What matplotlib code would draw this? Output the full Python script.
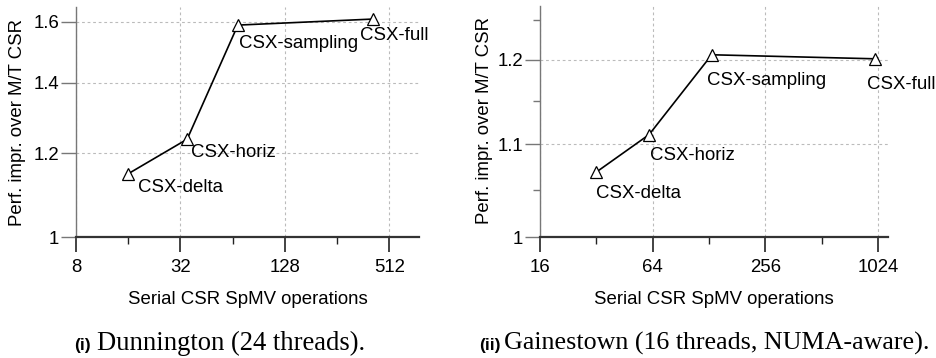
import matplotlib
matplotlib.use("Agg")
import matplotlib.pyplot as plt
from matplotlib.ticker import FixedLocator, FixedFormatter, NullFormatter

# Dunnington (24 threads)
dun_names = ["CSX-delta", "CSX-horiz", "CSX-sampling", "CSX-full"]
dun_ops = [16, 35, 68.6, 410]
dun_impr = [1.148, 1.238, 1.588, 1.609]
dun_xticks = [8, 32, 128, 512]
dun_xminor = [16, 64, 256]
dun_yticks = [1, 1.2, 1.4, 1.6]
dun_ylabels = ["1", "1.2", "1.4", "1.6"]
dun_yminor = []

# Gainestown (16 threads, NUMA-aware)
gai_names = ["CSX-delta", "CSX-horiz", "CSX-sampling", "CSX-full"]
gai_ops = [32, 61.3, 132.5, 993]
gai_impr = [1.069, 1.111, 1.206, 1.201]
gai_xticks = [16, 64, 256, 1024]
gai_xminor = [32, 128, 512]
gai_yticks = [1, 1.1, 1.2]
gai_ylabels = ["1", "1.1", "1.2"]
gai_yminor = [1.05, 1.15, 1.25]

W, H = 936, 358
DPI = 100
fig = plt.figure(figsize=(W / DPI, H / DPI), dpi=DPI)

SANS = ["Liberation Sans", "DejaVu Sans"]
SERIF = ["Liberation Serif", "DejaVu Serif"]
FS = 13.4


def px_axes(x0, x1, ytop, ybot):
    return fig.add_axes([x0 / W, (H - ybot) / H, (x1 - x0) / W, (ybot - ytop) / H])


def panel(ax, ops, impr, names, xlim, ylim, xticks, xminor, yticks, ylabels,
          yminor, offsets):
    ax.set_xscale("log", base=2)
    ax.set_yscale("log")
    ax.set_xlim(*xlim)
    ax.set_ylim(*ylim)

    ax.xaxis.set_major_locator(FixedLocator(xticks))
    ax.xaxis.set_major_formatter(FixedFormatter([str(t) for t in xticks]))
    ax.xaxis.set_minor_locator(FixedLocator(xminor))
    ax.xaxis.set_minor_formatter(NullFormatter())
    ax.yaxis.set_major_locator(FixedLocator(yticks))
    ax.yaxis.set_major_formatter(FixedFormatter(ylabels))
    ax.yaxis.set_minor_locator(FixedLocator(yminor))
    ax.yaxis.set_minor_formatter(NullFormatter())

    for s in ("top", "right"):
        ax.spines[s].set_visible(False)
    ax.spines["left"].set_color("#777777")
    ax.spines["left"].set_linewidth(1.0)
    ax.spines["bottom"].set_color("#333333")
    ax.spines["bottom"].set_linewidth(1.6)

    ax.tick_params(axis="x", which="major", direction="out", length=11,
                   width=1.2, color="#222222", pad=5)
    ax.tick_params(axis="x", which="minor", direction="out", length=5,
                   width=1.0, color="#222222")
    ax.tick_params(axis="y", which="major", direction="out", length=11,
                   width=1.0, color="#777777", pad=1)
    ax.tick_params(axis="y", which="minor", direction="out", length=5,
                   width=1.0, color="#777777")
    for lab in ax.get_xticklabels() + ax.get_yticklabels():
        lab.set_fontfamily(SANS)
        lab.set_fontsize(FS)

    ax.grid(True, which="major", color="#bbbbbb", linestyle=(0, (2.5, 2.5)),
            linewidth=0.8)
    ax.set_axisbelow(True)

    ax.plot(ops, impr, color="black", linewidth=1.2, marker="^",
            markersize=8, markerfacecolor="white", markeredgecolor="black",
            markeredgewidth=0.9, clip_on=False, zorder=3)
    for x, y, name, (dx, dy) in zip(ops, impr, names, offsets):
        ax.annotate(name, (x, y), xytext=(dx, dy), textcoords="offset pixels",
                    ha="left", va="center", fontsize=FS, family=SANS)

    ax.set_xlabel("Serial CSR SpMV operations", fontsize=FS, family=SANS,
                  labelpad=11)


ax1 = px_axes(76, 419, 7, 237)
panel(ax1, dun_ops, dun_impr, dun_names, (8, 760), (1, 1.652),
      dun_xticks, dun_xminor, dun_yticks, dun_ylabels, dun_yminor,
      [(10, -14), (4, -13), (1, -18), (-13, -16)])

ax2 = px_axes(540, 888, 6, 237)
panel(ax2, gai_ops, gai_impr, gai_names, (16, 1160), (1, 1.268),
      gai_xticks, gai_xminor, gai_yticks, gai_ylabels, gai_yminor,
      [(0, -21), (1, -21), (-5, -26), (-8, -26)])

ylab = "Perf. impr. over M/T CSR"
fig.text(18 / W, 1 - 123 / H, ylab, rotation=90, ha="center", va="center",
         fontsize=FS, family=SANS)
fig.text(484 / W, 1 - 121 / H, ylab, rotation=90, ha="center", va="center",
         fontsize=FS, family=SANS)

# sub-figure captions
base = 1 - 350 / H
fig.text(74 / W, base, "(i)", ha="left", va="baseline", fontsize=12.5,
         family=SANS, weight="bold")
fig.text(97 / W, base, "Dunnington (24 threads).", ha="left", va="baseline",
         fontsize=19.2, family=SERIF)
fig.text(479 / W, base, "(ii)", ha="left", va="baseline", fontsize=12.5,
         family=SANS, weight="bold")
fig.text(504 / W, base, "Gainestown (16 threads, NUMA-aware).", ha="left",
         va="baseline", fontsize=18.7, family=SERIF)

fig.savefig("out.png", dpi=DPI)
